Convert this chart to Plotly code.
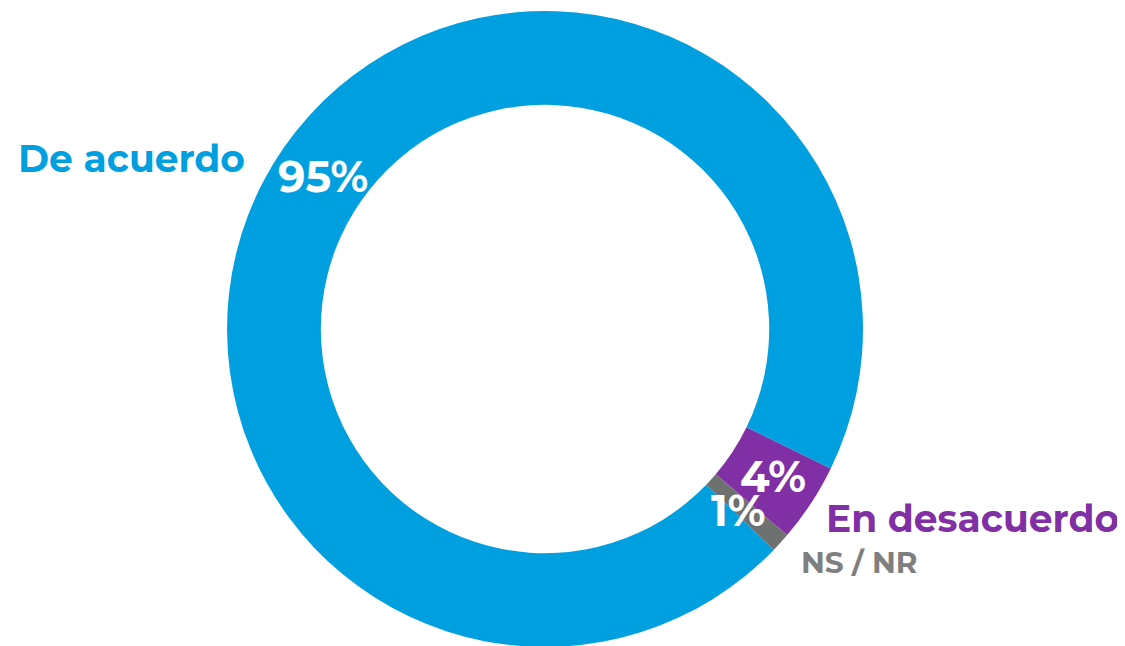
import plotly.graph_objects as go

# data
labels = ['En desacuerdo', 'NS / NR', 'De acuerdo']
values = [4, 1, 95]
colors = ['#812FA5', '#6F7070', '#009FDF']
label_colors = ['#812FA5', '#7F7F7F', '#009FDF']

fig = go.Figure(go.Pie(
    labels=labels,
    values=values,
    hole=0.705,
    sort=False,
    direction='clockwise',
    rotation=116,
    marker=dict(colors=colors, line=dict(width=0)),
    textinfo='none',
    hoverinfo='label+percent',
    showlegend=False,
    domain=dict(x=[0.1947, 0.76], y=[0.0108, 0.9954]),
))

font = 'Montserrat, Open Sans, sans-serif'

# category names outside the ring
name_pos = [(0.7253, 0.2105, 37.6), (0.7031, 0.1424, 29.5), (0.0071, 0.7678, 37.6)]
for lab, col, (x, y, s) in zip(labels, label_colors, name_pos):
    fig.add_annotation(x=x, y=y, xref='paper', yref='paper', text='<b>%s</b>' % lab,
                       showarrow=False, xanchor='left', yanchor='middle',
                       font=dict(family=font, size=s, color=col))

# percentages on the ring
pct_pos = [(0.68, 0.2755), (0.6489, 0.2229), (0.28, 0.7384)]
for v, (x, y) in zip(values, pct_pos):
    fig.add_annotation(x=x, y=y, xref='paper', yref='paper', text='<b>%d%%</b>' % v,
                       showarrow=False, xanchor='center', yanchor='middle',
                       font=dict(family=font, size=43, color='white'))

fig.update_layout(width=1125, height=646, margin=dict(l=0, r=0, t=0, b=0),
                  paper_bgcolor='white', plot_bgcolor='white')

fig.write_html('out.html')
